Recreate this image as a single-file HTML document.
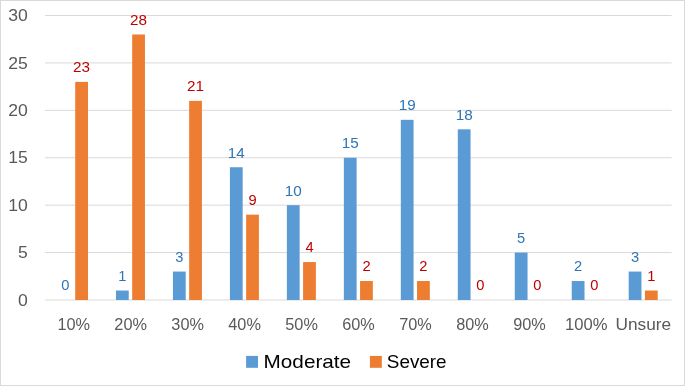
<!DOCTYPE html>
<html><head><meta charset="utf-8"><title>Chart</title>
<style>
html,body{margin:0;padding:0;background:#fff;}
body{width:685px;height:386px;overflow:hidden;}
svg{display:block;will-change:transform;}
text{font-family:"Liberation Sans",sans-serif;}
</style></head><body>
<svg width="685" height="386" viewBox="0 0 685 386">
<rect x="0" y="0" width="685" height="386" fill="#ffffff"/>
<rect x="0.5" y="0.5" width="684" height="385" fill="none" stroke="#d9d9d9" stroke-width="1"/>
<line x1="45" y1="300" x2="671.7" y2="300" stroke="#d9d9d9" stroke-width="1"/>
<line x1="45" y1="252.58" x2="671.7" y2="252.58" stroke="#d9d9d9" stroke-width="1"/>
<line x1="45" y1="205.17" x2="671.7" y2="205.17" stroke="#d9d9d9" stroke-width="1"/>
<line x1="45" y1="157.75" x2="671.7" y2="157.75" stroke="#d9d9d9" stroke-width="1"/>
<line x1="45" y1="110.34" x2="671.7" y2="110.34" stroke="#d9d9d9" stroke-width="1"/>
<line x1="45" y1="62.92" x2="671.7" y2="62.92" stroke="#d9d9d9" stroke-width="1"/>
<line x1="45" y1="15.51" x2="671.7" y2="15.51" stroke="#d9d9d9" stroke-width="1"/>
<text transform="translate(27.7 305.7) scale(1.08 1)" text-anchor="end" font-size="16.3" fill="#595959">0</text>
<text transform="translate(27.7 258.28) scale(1.08 1)" text-anchor="end" font-size="16.3" fill="#595959">5</text>
<text transform="translate(27.7 210.87) scale(1.08 1)" text-anchor="end" font-size="16.3" fill="#595959">10</text>
<text transform="translate(27.7 163.45) scale(1.08 1)" text-anchor="end" font-size="16.3" fill="#595959">15</text>
<text transform="translate(27.7 116.04) scale(1.08 1)" text-anchor="end" font-size="16.3" fill="#595959">20</text>
<text transform="translate(27.7 68.62) scale(1.08 1)" text-anchor="end" font-size="16.3" fill="#595959">25</text>
<text transform="translate(27.7 21.21) scale(1.08 1)" text-anchor="end" font-size="16.3" fill="#595959">30</text>
<text transform="translate(65.37 290.4) scale(1 1)" text-anchor="middle" font-size="14.7" fill="#2e75b6">0</text>
<rect x="75.21" y="81.89" width="12.77" height="218.11" fill="#ed7d31"/>
<text transform="translate(81.6 72.29) scale(1.04 1)" text-anchor="middle" font-size="14.7" fill="#c00000">23</text>
<rect x="115.96" y="290.52" width="12.77" height="9.48" fill="#5b9bd5"/>
<text transform="translate(122.35 280.92) scale(1 1)" text-anchor="middle" font-size="14.7" fill="#2e75b6">1</text>
<rect x="132.18" y="34.48" width="12.77" height="265.52" fill="#ed7d31"/>
<text transform="translate(138.57 24.88) scale(1.04 1)" text-anchor="middle" font-size="14.7" fill="#c00000">28</text>
<rect x="172.93" y="271.55" width="12.77" height="28.45" fill="#5b9bd5"/>
<text transform="translate(179.32 261.95) scale(1 1)" text-anchor="middle" font-size="14.7" fill="#2e75b6">3</text>
<rect x="189.16" y="100.86" width="12.77" height="199.14" fill="#ed7d31"/>
<text transform="translate(195.54 91.26) scale(1.04 1)" text-anchor="middle" font-size="14.7" fill="#c00000">21</text>
<rect x="229.91" y="167.24" width="12.77" height="132.76" fill="#5b9bd5"/>
<text transform="translate(236.29 157.64) scale(1.04 1)" text-anchor="middle" font-size="14.7" fill="#2e75b6">14</text>
<rect x="246.13" y="214.65" width="12.77" height="85.35" fill="#ed7d31"/>
<text transform="translate(252.52 205.05) scale(1 1)" text-anchor="middle" font-size="14.7" fill="#c00000">9</text>
<rect x="286.88" y="205.17" width="12.77" height="94.83" fill="#5b9bd5"/>
<text transform="translate(293.27 195.57) scale(1.04 1)" text-anchor="middle" font-size="14.7" fill="#2e75b6">10</text>
<rect x="303.1" y="262.07" width="12.77" height="37.93" fill="#ed7d31"/>
<text transform="translate(309.49 252.47) scale(1 1)" text-anchor="middle" font-size="14.7" fill="#c00000">4</text>
<rect x="343.85" y="157.75" width="12.77" height="142.25" fill="#5b9bd5"/>
<text transform="translate(350.24 148.16) scale(1.04 1)" text-anchor="middle" font-size="14.7" fill="#2e75b6">15</text>
<rect x="360.07" y="281.03" width="12.77" height="18.97" fill="#ed7d31"/>
<text transform="translate(366.46 271.43) scale(1 1)" text-anchor="middle" font-size="14.7" fill="#c00000">2</text>
<rect x="400.82" y="119.82" width="12.77" height="180.18" fill="#5b9bd5"/>
<text transform="translate(407.21 110.22) scale(1.04 1)" text-anchor="middle" font-size="14.7" fill="#2e75b6">19</text>
<rect x="417.05" y="281.03" width="12.77" height="18.97" fill="#ed7d31"/>
<text transform="translate(423.43 271.43) scale(1 1)" text-anchor="middle" font-size="14.7" fill="#c00000">2</text>
<rect x="457.8" y="129.31" width="12.77" height="170.69" fill="#5b9bd5"/>
<text transform="translate(464.18 119.71) scale(1.04 1)" text-anchor="middle" font-size="14.7" fill="#2e75b6">18</text>
<text transform="translate(480.41 290.4) scale(1 1)" text-anchor="middle" font-size="14.7" fill="#c00000">0</text>
<rect x="514.77" y="252.58" width="12.77" height="47.42" fill="#5b9bd5"/>
<text transform="translate(521.16 242.98) scale(1 1)" text-anchor="middle" font-size="14.7" fill="#2e75b6">5</text>
<text transform="translate(537.38 290.4) scale(1 1)" text-anchor="middle" font-size="14.7" fill="#c00000">0</text>
<rect x="571.74" y="281.03" width="12.77" height="18.97" fill="#5b9bd5"/>
<text transform="translate(578.13 271.43) scale(1 1)" text-anchor="middle" font-size="14.7" fill="#2e75b6">2</text>
<text transform="translate(594.35 290.4) scale(1 1)" text-anchor="middle" font-size="14.7" fill="#c00000">0</text>
<rect x="628.71" y="271.55" width="12.77" height="28.45" fill="#5b9bd5"/>
<text transform="translate(635.1 261.95) scale(1 1)" text-anchor="middle" font-size="14.7" fill="#2e75b6">3</text>
<rect x="644.94" y="290.52" width="12.77" height="9.48" fill="#ed7d31"/>
<text transform="translate(651.33 280.92) scale(1 1)" text-anchor="middle" font-size="14.7" fill="#c00000">1</text>
<text transform="translate(73.69 330.4) scale(1 1)" text-anchor="middle" font-size="16.3" fill="#595959">10%</text>
<text transform="translate(130.66 330.4) scale(1 1)" text-anchor="middle" font-size="16.3" fill="#595959">20%</text>
<text transform="translate(187.63 330.4) scale(1 1)" text-anchor="middle" font-size="16.3" fill="#595959">30%</text>
<text transform="translate(244.6 330.4) scale(1 1)" text-anchor="middle" font-size="16.3" fill="#595959">40%</text>
<text transform="translate(301.58 330.4) scale(1 1)" text-anchor="middle" font-size="16.3" fill="#595959">50%</text>
<text transform="translate(358.55 330.4) scale(1 1)" text-anchor="middle" font-size="16.3" fill="#595959">60%</text>
<text transform="translate(415.52 330.4) scale(1 1)" text-anchor="middle" font-size="16.3" fill="#595959">70%</text>
<text transform="translate(472.5 330.4) scale(1 1)" text-anchor="middle" font-size="16.3" fill="#595959">80%</text>
<text transform="translate(529.47 330.4) scale(1 1)" text-anchor="middle" font-size="16.3" fill="#595959">90%</text>
<text transform="translate(586.34 330.4) scale(1.02 1)" text-anchor="middle" font-size="16.3" fill="#595959">100%</text>
<text transform="translate(643.31 330.4) scale(1.06 1)" text-anchor="middle" font-size="16.3" fill="#595959">Unsure</text>
<rect x="246.1" y="355.9" width="11.9" height="11.9" fill="#5b9bd5"/>
<text x="263.6" y="368" font-size="18.2" fill="#000000" textLength="87.5" lengthAdjust="spacingAndGlyphs">Moderate</text>
<rect x="369.9" y="355.9" width="11.9" height="11.9" fill="#ed7d31"/>
<text x="386.8" y="368" font-size="18.2" fill="#000000" textLength="59.8" lengthAdjust="spacingAndGlyphs">Severe</text>
</svg>
</body></html>
